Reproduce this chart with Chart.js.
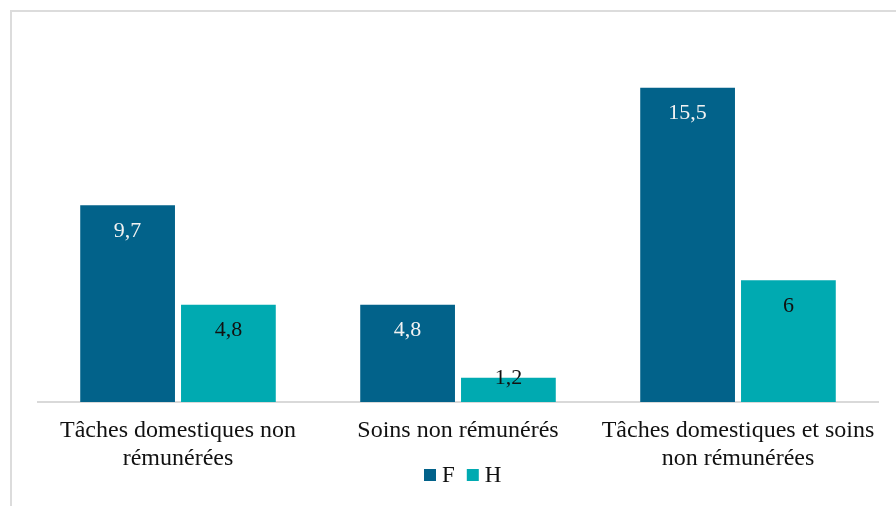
<!DOCTYPE html>
<html>
<head>
<meta charset="utf-8">
<script src="https://cdn.jsdelivr.net/npm/chart.js@4/dist/chart.umd.min.js"></script>
<style>
html,body{margin:0;padding:0;background:#fff;}
#wrap{position:relative;width:896px;height:506px;}
</style>
</head>
<body>
<div id="wrap"><canvas id="c" width="896" height="506"></canvas></div>
<script>
const categories = [
  ["Tâches domestiques non", "rémunérées"],
  ["Soins non rémunérés"],
  ["Tâches domestiques et soins", "non rémunérées"]
];
const seriesF = [9.7, 4.8, 15.5];
const seriesH = [4.8, 1.2, 6];
const seriesNames = ["F", "H"];
const colorF = "#02628a";
const colorH = "#00aab1";
const FONT = "'Liberation Serif', 'Times New Roman', serif";

const framePlugin = {
  id: 'frame',
  beforeDraw(chart) {
    const ctx = chart.ctx;
    ctx.save();
    ctx.fillStyle = '#fff';
    ctx.fillRect(0, 0, chart.width, chart.height);
    ctx.strokeStyle = '#dcdcdc';
    ctx.lineWidth = 2;
    ctx.beginPath();
    ctx.moveTo(11, chart.height + 2);
    ctx.lineTo(11, 11);
    ctx.lineTo(chart.width + 2, 11);
    ctx.stroke();
    ctx.restore();
  }
};

const labelPlugin = {
  id: 'vlabels',
  afterDatasetsDraw(chart) {
    const ctx = chart.ctx;
    ctx.save();
    ctx.font = "22px " + FONT;
    ctx.textAlign = 'center';
    ctx.textBaseline = 'middle';
    chart.data.datasets.forEach((ds, di) => {
      const meta = chart.getDatasetMeta(di);
      meta.data.forEach((bar, i) => {
        const v = ds.data[i];
        const txt = String(v).replace('.', ',');
        const y = Math.min(bar.y + 26, bar.base - 24);
        ctx.fillStyle = di === 0 ? '#f2f2f2' : '#111';
        ctx.fillText(txt, bar.x, y);
      });
    });
    ctx.restore();
  }
};

const legendPlugin = {
  id: 'customLegend',
  afterDraw(chart) {
    const ctx = chart.ctx;
    ctx.save();
    ctx.font = "23px " + FONT;
    ctx.textBaseline = 'middle';
    ctx.textAlign = 'left';
    const cy = 475;
    const items = chart.data.datasets.map(d => ({ text: d.label, color: d.backgroundColor }));
    const box = 12, gapBox = 6, gapItem = 12;
    let x = 424;
    items.forEach(it => {
      ctx.fillStyle = it.color;
      ctx.fillRect(x, cy - 6, box, box);
      x += box + gapBox;
      ctx.fillStyle = '#111';
      ctx.fillText(it.text, x, cy + 1);
      x += ctx.measureText(it.text).width + gapItem;
    });
    ctx.restore();
  }
};

new Chart(document.getElementById('c'), {
  type: 'bar',
  data: {
    labels: categories,
    datasets: [
      { label: seriesNames[0], data: seriesF, backgroundColor: colorF },
      { label: seriesNames[1], data: seriesH, backgroundColor: colorH }
    ]
  },
  options: {
    responsive: false,
    animation: false,
    devicePixelRatio: 1,
    layout: { padding: { left: 38, right: 18, top: 37, bottom: 0 } },
    datasets: { bar: { barPercentage: 0.94, categoryPercentage: 0.72 } },
    scales: {
      x: {
        grid: { display: false, drawTicks: false },
        border: { display: true, color: '#d9d9d9', width: 2 },
        ticks: { color: '#111', font: { family: FONT, size: 24, lineHeight: 1.2 }, padding: 14, maxRotation: 0, autoSkip: false },
        afterFit(scale) { scale.height = 104; }
      },
      y: {
        display: false,
        min: 0, max: 18
      }
    },
    plugins: {
      legend: { display: false },
      tooltip: { enabled: false }
    }
  },
  plugins: [framePlugin, labelPlugin, legendPlugin]
});
</script>
</body>
</html>
